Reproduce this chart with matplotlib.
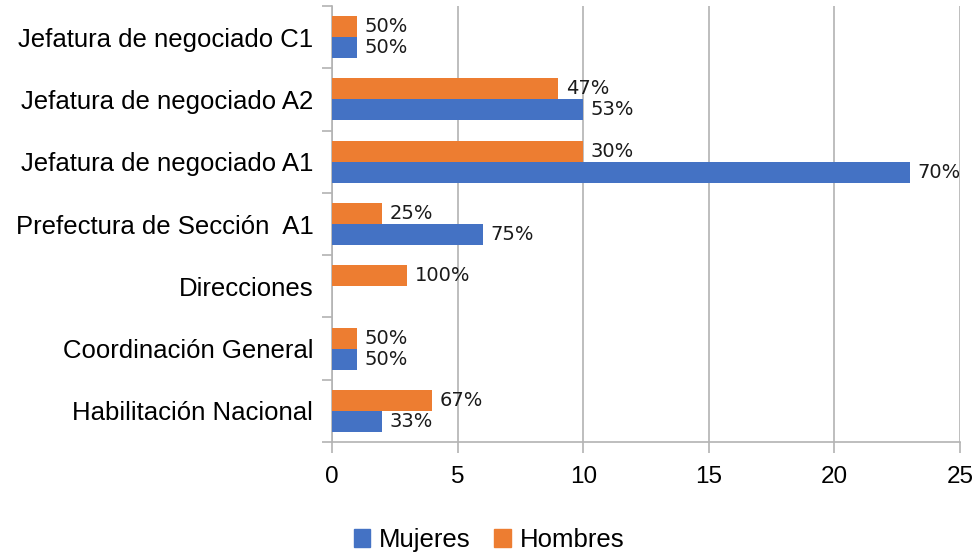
import matplotlib
matplotlib.use("Agg")
import matplotlib.pyplot as plt
import numpy as np
from matplotlib.patches import Patch

categories = ["Habilitación Nacional", "Coordinación General", "Direcciones",
              "Prefectura de Sección  A1", "Jefatura de negociado A1",
              "Jefatura de negociado A2", "Jefatura de negociado C1"]
mujeres = [2, 1, 0, 6, 23, 10, 1]
hombres = [4, 1, 3, 2, 10, 9, 1]
mujeres_pct = ["33%", "50%", "", "75%", "70%", "53%", "50%"]
hombres_pct = ["67%", "50%", "100%", "25%", "30%", "47%", "50%"]
x_ticks = [0, 5, 10, 15, 20, 25]

blue = "#4472C4"
orange = "#ED7D31"
grid_c = "#b3b3b3"

fig = plt.figure(figsize=(9.75, 5.56), dpi=100)
ax = fig.add_axes([332/975, 1-442/556, (960-332)/975, (442-6)/556])

y = np.arange(len(categories))
h = 0.337
ax.barh(y - h/2, mujeres, height=h, color=blue, zorder=3)
ax.barh(y + h/2, hombres, height=h, color=orange, zorder=3)

for i in range(len(categories)):
    if mujeres_pct[i]:
        ax.annotate(mujeres_pct[i], (mujeres[i], y[i] - h/2), xytext=(5.5, 0),
                    textcoords="offset points", va="center", ha="left",
                    fontsize=14, family="DejaVu Sans", color="#1a1a1a")
    if hombres_pct[i]:
        ax.annotate(hombres_pct[i], (hombres[i], y[i] + h/2), xytext=(5.5, 0),
                    textcoords="offset points", va="center", ha="left",
                    fontsize=14, family="DejaVu Sans", color="#1a1a1a")

ax.set_xlim(0, 25)
ax.set_ylim(-0.5, len(categories) - 0.5)
ax.set_xticks(x_ticks)
ax.set_xticklabels([str(t) for t in x_ticks], fontsize=17.5, family="Liberation Sans")
ax.tick_params(axis="x", length=8, color=grid_c, width=1.2, pad=9)

ax.set_yticks(np.arange(-0.5, len(categories), 1.0))
ax.set_yticklabels([])
ax.tick_params(axis="y", which="major", length=7.5, color=grid_c, width=1.2)
ax.set_yticks(y, minor=True)
ax.set_yticklabels(categories, minor=True, fontsize=18.5, family="Liberation Sans")
ax.tick_params(axis="y", which="minor", length=0, pad=13.5)

ax.grid(axis="x", color=grid_c, lw=1.2, zorder=0)
for s in ["top", "right"]:
    ax.spines[s].set_visible(False)
for s in ["left", "bottom"]:
    ax.spines[s].set_color(grid_c)
    ax.spines[s].set_linewidth(1.2)

handles = [Patch(color=blue, label="Mujeres"), Patch(color=orange, label="Hombres")]
fig.legend(handles=handles, loc="center", bbox_to_anchor=(489/975, 1-540/556),
           ncol=2, frameon=False, prop={"family": "Liberation Sans", "size": 18.5},
           handlelength=0.65, handleheight=0.65, handletextpad=0.35, columnspacing=0.9)

fig.savefig("out.png", dpi=100)
